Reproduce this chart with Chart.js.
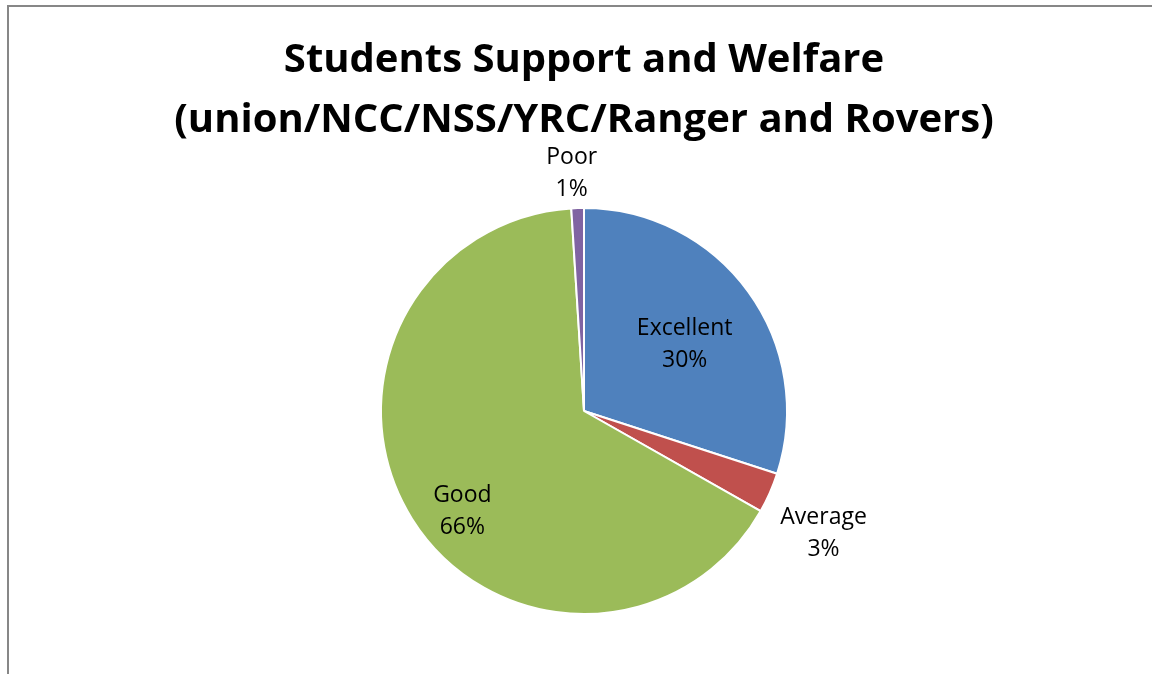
<!DOCTYPE html>
<html>
<head>
<meta charset="utf-8">
<script src="https://cdn.jsdelivr.net/npm/chart.js@4.4.0/dist/chart.umd.min.js"></script>
<style>
  html, body { margin: 0; padding: 0; background: #fff; overflow: hidden; }
  #frame {
    position: absolute; left: 7px; top: 5px; width: 1200px; height: 700px;
    border-left: 2px solid #878787; border-top: 2px solid #878787;
  }
  #wrap { position: absolute; left: 0; top: 0; width: 1152px; height: 674px; }
</style>
</head>
<body>
<div id="frame"></div>
<div id="wrap"><canvas id="pie"></canvas></div>
<script>
// chart data
const categories = ["Excellent", "Average", "Good", "Poor"];
const shares = [30.0, 3.2, 65.8, 1.0];
const sliceColors = ["#4F81BD", "#C0504D", "#9BBB59", "#8064A2"];

const chartTitle = ["Students Support and Welfare", "(union/NCC/NSS/YRC/Ranger and Rovers)"];

// where each label sits, as a fraction of the radius from the centre
const labelRadius = [0.6, 1.32, 0.77, 1.18];
const labelAngleShift = [0.03, 0.05, -0.12, -0.02];

const sliceLabels = {
  id: "sliceLabels",
  afterDatasetsDraw(chart) {
    const ctx = chart.ctx;
    const meta = chart.getDatasetMeta(0);
    const total = shares.reduce((a, b) => a + b, 0);
    ctx.save();
    ctx.font = "23px 'Open Sans', Lato, sans-serif";
    ctx.fillStyle = "#000";
    ctx.textAlign = "center";
    ctx.textBaseline = "middle";
    meta.data.forEach((arc, i) => {
      const p = arc.getProps(["x", "y", "startAngle", "endAngle", "outerRadius"], true);
      const mid = (p.startAngle + p.endAngle) / 2 + labelAngleShift[i];
      const r = p.outerRadius * labelRadius[i];
      const x = p.x + Math.cos(mid) * r;
      const y = p.y + Math.sin(mid) * r + 2;
      const pct = Math.round(shares[i] / total * 100) + "%";
      ctx.fillText(categories[i], x, y - 16);
      ctx.fillText(pct, x, y + 16);
    });
    ctx.restore();
  }
};

new Chart(document.getElementById("pie"), {
  type: "pie",
  data: {
    labels: categories,
    datasets: [{
      data: shares,
      backgroundColor: sliceColors,
      borderColor: "#ffffff",
      borderWidth: 2
    }]
  },
  options: {
    responsive: true,
    maintainAspectRatio: false,
    animation: false,
    radius: 203,
    layout: { padding: { top: 0, bottom: 60, left: 16, right: 0 } },
    plugins: {
      legend: { display: false },
      tooltip: { enabled: false },
      title: {
        display: true,
        text: chartTitle,
        color: "#000",
        font: { family: "'Open Sans', Lato, sans-serif", size: 40, weight: "bold", lineHeight: 1.5 },
        padding: { top: 31, bottom: 57 }
      }
    }
  },
  plugins: [sliceLabels]
});
</script>
</body>
</html>
